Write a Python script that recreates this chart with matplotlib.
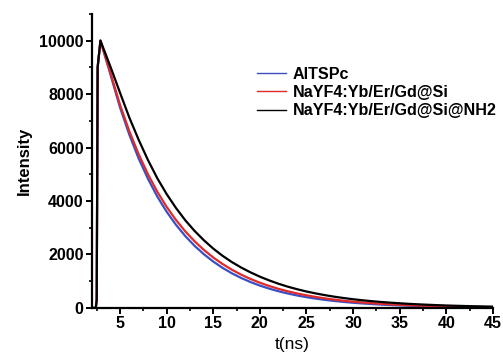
import matplotlib
matplotlib.use("Agg")
import matplotlib.pyplot as plt
from matplotlib.ticker import MultipleLocator

plt.rcParams['font.family'] = ['Liberation Sans', 'DejaVu Sans']

t_ns = [2.0, 2.4, 2.5, 2.6, 2.9] + list(range(4, 46))

altspc = [0, 0, 300, 9000, 10000,
          8700, 7500, 6480, 5590, 4830, 4165, 3600, 3111, 2688, 2323, 2008,
          1735, 1499, 1296, 1120, 968, 836, 723, 624, 540, 466, 403, 348,
          301, 260, 225, 194, 168, 145, 125, 108, 94, 81, 70, 60, 52, 45,
          39, 34, 29, 25, 22]
nayf4_si = [0, 0, 300, 9000, 10000,
            8760, 7600, 6610, 5750, 5000, 4345, 3782, 3291, 2864, 2493, 2170,
            1888, 1643, 1430, 1245, 1083, 943, 821, 714, 622, 541, 471, 410,
            357, 310, 270, 235, 205, 178, 155, 135, 117, 102, 89, 77, 67, 59,
            51, 44, 39, 34, 29]
nayf4_si_nh2 = [0, 0, 300, 9000, 10000,
                9000, 8050, 7120, 6290, 5530, 4850, 4260, 3740, 3280, 2880, 2530,
                2220, 1950, 1715, 1510, 1330, 1170, 1030, 905, 795, 700, 615, 542,
                477, 420, 370, 326, 287, 253, 223, 197, 174, 153, 135, 119, 105, 92,
                81, 72, 63, 56, 49]

labels = ["AlTSPc", "NaYF4:Yb/Er/Gd@Si", "NaYF4:Yb/Er/Gd@Si@NH2"]
colors = ["#3a4fc4", "#e02a2a", "#000000"]
x_ticks = [5, 10, 15, 20, 25, 30, 35, 40, 45]
y_ticks = [0, 2000, 4000, 6000, 8000, 10000]

fig = plt.figure(figsize=(5.03, 3.56), dpi=100)
ax = fig.add_axes([0.183, 0.135, 0.797, 0.826])

series = [altspc, nayf4_si, nayf4_si_nh2]
for ys, lab, c in zip(series, labels, colors):
    ax.plot(t_ns, ys, color=c, lw=1.6, label=lab)

ax.set_xlim(2, 45)
ax.set_ylim(0, 11000)
ax.set_xticks(x_ticks)
ax.set_yticks(y_ticks)
ax.xaxis.set_minor_locator(MultipleLocator(2.5))
ax.yaxis.set_minor_locator(MultipleLocator(1000))
for s in ['top', 'right']:
    ax.spines[s].set_visible(False)
for s in ['left', 'bottom']:
    ax.spines[s].set_linewidth(1.6)
ax.tick_params(which='major', direction='out', length=4, width=1.4, labelsize=11.5, pad=2)
ax.tick_params(which='minor', direction='out', length=2.5, width=1.2)
for lbl in ax.get_xticklabels() + ax.get_yticklabels():
    lbl.set_fontweight('bold')

ax.set_xlabel("t(ns)", fontsize=12.5, labelpad=4)
ax.set_ylabel("Intensity", fontsize=12, fontweight='bold', labelpad=5)

leg = ax.legend(loc='upper left', bbox_to_anchor=(0.412, 0.82), frameon=False,
                prop={'weight': 'bold', 'size': 11.6}, handlelength=1.8,
                handletextpad=0.4, labelspacing=0.2, borderaxespad=0, borderpad=0)
for h in leg.get_lines():
    h.set_linewidth(1.0)

fig.savefig("out.png", dpi=100)
